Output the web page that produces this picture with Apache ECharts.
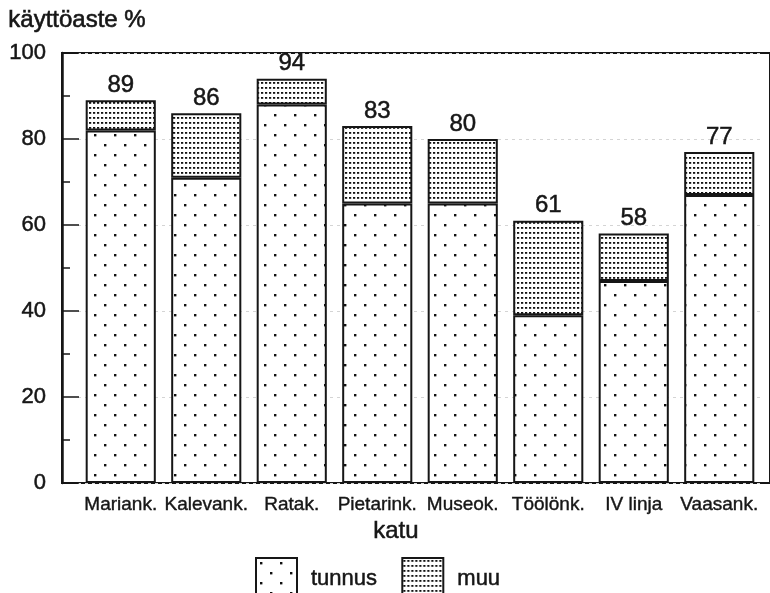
<!DOCTYPE html>
<html>
<head>
<meta charset="utf-8">
<script src="https://cdn.jsdelivr.net/npm/echarts@6/dist/echarts.min.js"></script>
<style>
  html, body { margin: 0; padding: 0; background: #fff; }
  #chart { width: 770px; height: 593px; }
</style>
</head>
<body>
<div id="chart"></div>
<script>
// ---- data ----
const categories = ['Mariank.', 'Kalevank.', 'Ratak.', 'Pietarink.', 'Museok.', 'Töölönk.', 'IV linja', 'Vaasank.'];
const tunnus = [82, 71, 88, 65, 65, 39, 47, 67];
const muu = [7, 15, 6, 18, 15, 22, 11, 10];
const totals = [89, 86, 94, 83, 80, 61, 58, 77];
const yTicks = [0, 20, 40, 60, 80, 100];

const FONT = 'Liberation Sans, Arial, Helvetica, sans-serif';
const INK = '#161616';

function makePattern(w, h, draw) {
  const c = document.createElement('canvas');
  c.width = w; c.height = h;
  const ctx = c.getContext('2d');
  ctx.fillStyle = '#ffffff';
  ctx.fillRect(0, 0, w, h);
  ctx.fillStyle = '#111';
  draw(ctx);
  return { image: c, repeat: 'repeat' };
}
const sparseDots = makePattern(20, 20, ctx => {
  ctx.fillRect(4, 4, 2.4, 2.4);
  ctx.fillRect(14, 14, 2.4, 2.4);
});
const denseDots = makePattern(4, 5, ctx => {
  ctx.fillRect(1, 2, 2.2, 1.8);
});

const chart = echarts.init(document.getElementById('chart'), null, { renderer: 'canvas' });
chart.setOption({
  animation: false,
  backgroundColor: '#fff',
  textStyle: { fontFamily: FONT, color: INK },
  grid: [
    { left: 78, right: 8, top: 53, bottom: 110 },
    { left: 62, right: -20, top: 53, bottom: 110, show: true, borderColor: INK, borderWidth: 2, backgroundColor: 'transparent', z: 0 }
  ],
  graphic: [
    { type: 'text', left: 8, top: 8, style: { text: 'käyttöaste %', font: '24px ' + FONT, fill: INK, stroke: INK, lineWidth: 0.6 } },
    { type: 'text', left: 373, top: 519, style: { text: 'katu', font: '24px ' + FONT, fill: INK, stroke: INK, lineWidth: 0.5 } }
  ],
  legend: {
    left: 250, top: 552,
    icon: 'rect',
    itemWidth: 41, itemHeight: 42, itemGap: 24,
    textStyle: { fontSize: 22, color: INK, fontFamily: FONT, padding: [0, 0, 0, 9], textBorderColor: INK, textBorderWidth: 0.5 },
    data: ['tunnus', 'muu']
  },
  xAxis: [
    {
      type: 'category', gridIndex: 0, data: categories,
      axisLine: { show: false }, axisTick: { show: false },
      axisLabel: { interval: 0, fontSize: 19, color: INK, margin: 12, fontFamily: FONT, textBorderColor: INK, textBorderWidth: 0.4 }
    },
    { type: 'value', gridIndex: 1, show: false, min: 0, max: 1 }
  ],
  yAxis: [
    {
      type: 'value', gridIndex: 0, min: 0, max: 100, interval: 20, offset: 16,
      axisLine: { show: true, lineStyle: { color: INK, width: 2.5 } },
      axisTick: { show: true, inside: true, length: 17, lineStyle: { color: INK, width: 1.5 } },
      minorTick: { show: true, splitNumber: 2, length: 8, lineStyle: { color: INK, width: 1.5 } },
      axisLabel: { fontSize: 22, color: INK, margin: 16, fontFamily: FONT, textBorderColor: INK, textBorderWidth: 0.5,
        formatter: v => (yTicks.indexOf(v) >= 0 ? String(v) : '') },
      splitLine: { show: true, lineStyle: { color: '#d4d4d4', type: [3, 4], width: 1 } }
    },
    { type: 'value', gridIndex: 1, show: false, min: 0, max: 1 }
  ],
  series: [
    {
      name: 'tunnus', type: 'bar', stack: 'k', xAxisIndex: 0, yAxisIndex: 0,
      data: tunnus, barCategoryGap: '18%',
      itemStyle: { color: sparseDots, borderColor: INK, borderWidth: 2 }
    },
    {
      name: 'muu', type: 'bar', stack: 'k', xAxisIndex: 0, yAxisIndex: 0,
      data: muu, barCategoryGap: '18%',
      itemStyle: { color: denseDots, borderColor: INK, borderWidth: 2 },
      label: {
        show: true, position: 'top', distance: 3, fontSize: 24, color: INK, fontFamily: FONT,
        textBorderColor: INK, textBorderWidth: 0.5,
        formatter: p => String(totals[p.dataIndex])
      }
    }
  ]
});
</script>
</body>
</html>
